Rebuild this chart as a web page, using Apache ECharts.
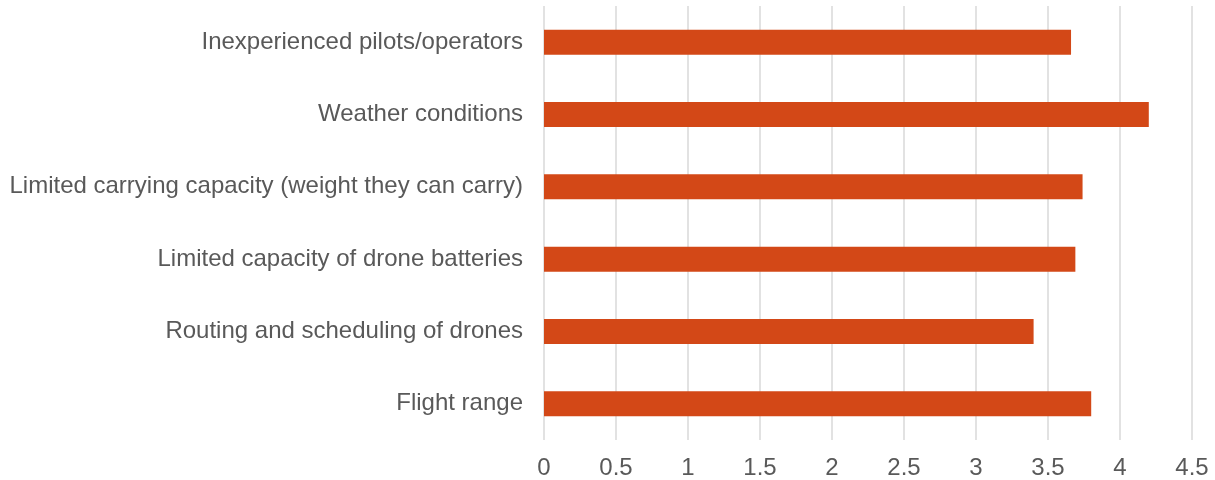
<!DOCTYPE html>
<html>
<head>
<meta charset="utf-8">
<script src="https://cdn.jsdelivr.net/npm/echarts@6/dist/echarts.min.js"></script>
<style>
  html, body { margin: 0; padding: 0; background: #ffffff; }
  #chart { width: 1215px; height: 480px; }
</style>
</head>
<body>
<div id="chart"></div>
<script>
// Categories listed bottom-to-top (ECharts category y-axis starts at the bottom)
const categories = [
  'Flight range',
  'Routing and scheduling of drones',
  'Limited capacity of drone batteries',
  'Limited carrying capacity (weight they can carry)',
  'Weather conditions',
  'Inexperienced pilots/operators'
];
const scores = [3.80, 3.40, 3.69, 3.74, 4.20, 3.66];
const axisMin = 0;
const axisMax = 4.5;
const axisStep = 0.5;

const chart = echarts.init(document.getElementById('chart'), null, { renderer: 'canvas' });
chart.setOption({
  animation: false,
  backgroundColor: '#ffffff',
  textStyle: { fontFamily: 'Liberation Sans, Arial, sans-serif' },
  grid: { left: 544, right: 23, top: 6, bottom: 40, containLabel: false },
  xAxis: {
    type: 'value',
    min: axisMin,
    max: axisMax,
    interval: axisStep,
    axisLine: { show: false },
    axisTick: { show: false },
    splitLine: { show: true, lineStyle: { color: '#d9d9d9', width: 1.5 } },
    axisLabel: { color: '#595959', fontSize: 24, margin: 16 }
  },
  yAxis: {
    type: 'category',
    data: categories,
    axisLine: { show: false },
    axisTick: { show: false },
    axisLabel: { color: '#595959', fontSize: 24, margin: 21 }
  },
  series: [{
    type: 'bar',
    data: scores,
    barWidth: 25,
    itemStyle: { color: '#d34817' }
  }]
});
</script>
</body>
</html>
